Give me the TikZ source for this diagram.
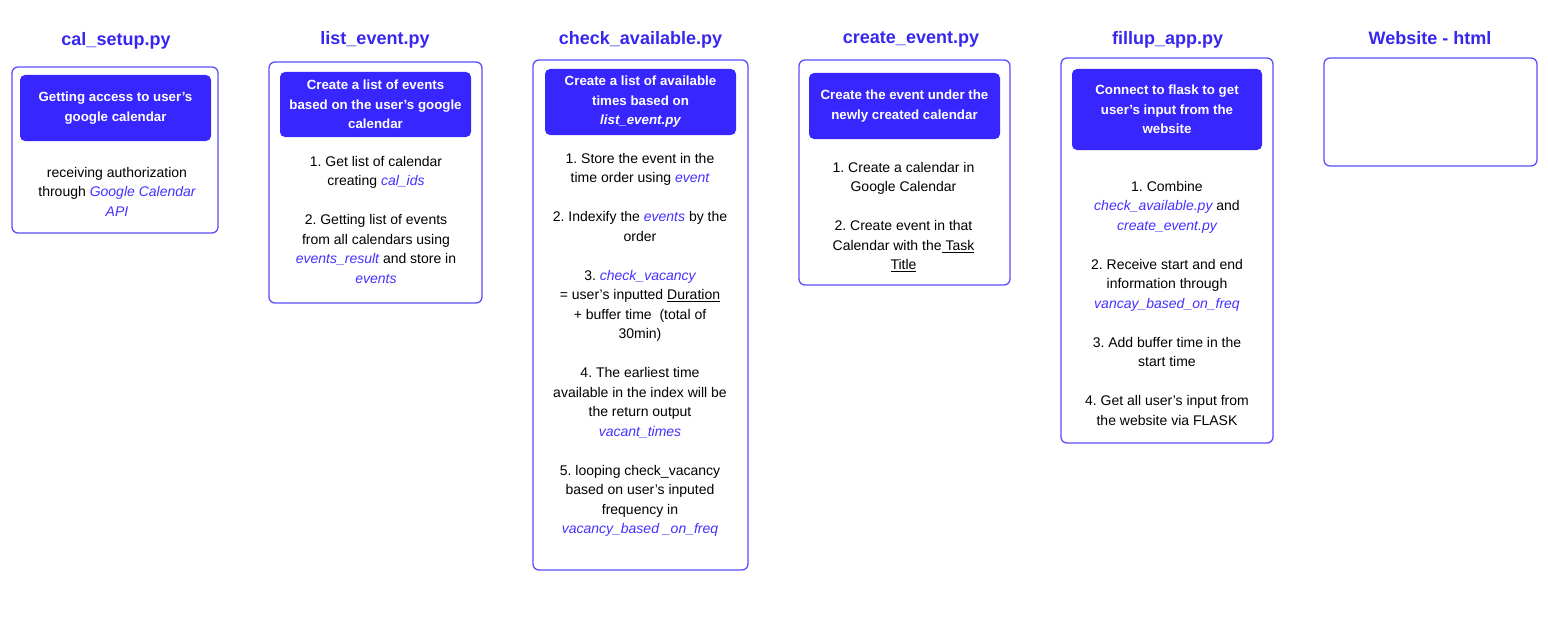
\documentclass[tikz,border=0pt]{standalone}
\usepackage{fontspec}
\setmainfont{Liberation Sans}
\usepackage{tikz}
\usetikzlibrary{positioning}
\frenchspacing
\definecolor{titleblue}{RGB}{55,38,238}
\definecolor{headblue}{RGB}{56,38,255}
\definecolor{frameblue}{RGB}{92,78,250}
\definecolor{codeblue}{RGB}{68,48,255}
\tikzstyle{filetitle}=[font=\bfseries\fontsize{18}{22}\selectfont,
                       text=titleblue, inner sep=0pt]
\tikzstyle{filebox}  =[draw=frameblue, line width=1.3pt,
                       rounded corners=6pt, inner sep=0pt]
\tikzstyle{headbox}  =[fill=headblue, text=white, rounded corners=5pt,
                       align=center, inner sep=0pt,
                       font=\bfseries\fontsize{13.3}{19.5}\selectfont]
\tikzstyle{bodytext} =[anchor=north, align=center, inner sep=0pt,
                       font=\fontsize{14}{19.5}\selectfont]
\newcommand{\code}[1]{\textcolor{codeblue}{\itshape #1}}

\begin{document}
\begin{tikzpicture}[x=1pt, y=-1pt]
    \useasboundingbox (0,0) rectangle (1548,626);
    \foreach \n/\x/\y/\txt in {setup/116/41/cal\_setup.py, list/375/40/list\_event.py,
        check/640.5/40/check\_available.py, create/911/39/create\_event.py,
        fillup/1167.5/40/fillup\_app.py, web/1430/38/Website - html}
        \node[filetitle] (t-\n) at (\x,\y) {\txt};

    \foreach \n/\x/\y/\w/\h in {setup/115/150/206/166, list/375.5/182.5/213/241,
        check/640.5/315/215/510, create/904.5/172.5/211/225,
        fillup/1167/250.5/212/385, web/1430.5/112/213/108}
        \node[filebox, minimum width=\w pt, minimum height=\h pt] (f-\n) at (\x,\y) {};

    \node[headbox, minimum width=191pt, minimum height=66pt] (h-setup) at (115.5,108)
        {Getting access to user’s\\google calendar};
    \node[headbox, minimum width=191pt, minimum height=65pt] (h-list) at (375.5,104.5)
        {Create a list of events\\based on the user’s google\\calendar};
    \node[headbox, minimum width=191pt, minimum height=66pt] (h-check) at (640.5,102)
        {Create a list of available\\times based on\\\itshape list\_event.py};
    \node[headbox, minimum width=191pt, minimum height=66pt] (h-create) at (904.5,106)
        {Create the event under the\\newly created calendar};
    \node[headbox, minimum width=190pt, minimum height=81pt] (h-fillup) at (1167,109.5)
        {Connect to flask to get\\user’s input from the\\website};

    \node[bodytext] (b-setup) at (117,167)
        {receiving authorization\\through \code{Google Calendar}\\\code{API}};
    \node[bodytext] (b-list) at (376,156)
        {1. Get list of calendar\\creating \code{cal\_ids}\\[19.5pt]
         2. Getting list of events\\from all calendars using\\
         \code{events\_result} and store in\\\code{events}};
    \node[bodytext] (b-check) at (640,153)
        {1. Store the event in the\\time order using \code{event}\\[19.5pt]
         2. Indexify the \code{events} by the\\order\\[19.5pt]
         3. \code{check\_vacancy}\\= user’s inputted \underline{Duration}\\
         + buffer time\ \ (total of\\30min)\\[19.5pt]
         4. The earliest time\\available in the index will be\\the return output\\
         \code{vacant\_times}\\[19.5pt]
         5. looping check\_vacancy\\based on user’s inputed\\frequency in\\
         \code{vacancy\_based \_on\_freq}};
    \node[bodytext] (b-create) at (903.5,162)
        {1. Create a calendar in\\Google Calendar\\[19.5pt]
         2. Create event in that\\Calendar with the\underline{\ Task}\\\underline{Title}};
    \node[bodytext] (b-fillup) at (1167,181)
        {1. Combine\\\code{check\_available.py} and\\\code{create\_event.py}\\[19.5pt]
         2. Receive start and end\\information through\\
         \code{vancay\_based\_on\_freq}\\[19.5pt]
         3. Add buffer time in the\\start time\\[19.5pt]
         4. Get all user’s input from\\the website via FLASK};
\end{tikzpicture}
\end{document}
